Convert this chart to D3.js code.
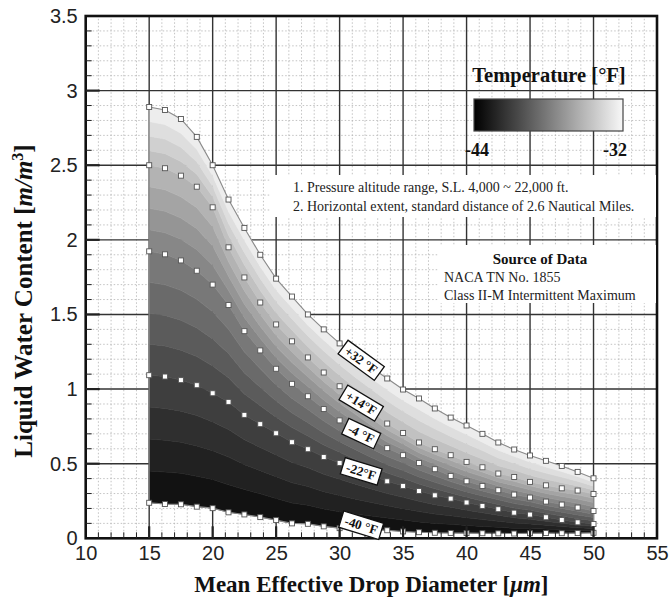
<!DOCTYPE html>
<html>
<head>
<meta charset="utf-8">
<script src="https://cdn.jsdelivr.net/npm/d3@7"></script>
<style>
  body { margin: 0; background: #fff; }
  svg { display: block; }
  text { font-family: "Liberation Serif", "Times New Roman", serif; }
</style>
</head>
<body>
<div id="container"></div>
<script>
const width = 672, height = 603;

// drop diameter (um) where the markers sit
const dropDiameter = [15, 16.25, 17.5, 18.75, 20, 21.25, 22.5, 23.75, 25, 26.25, 27.5, 28.75, 30,
    31.25, 32.5, 33.75, 35, 36.25, 37.5, 38.75, 40, 41.25, 42.5, 43.75, 45, 46.25, 47.5, 48.75, 50];

// liquid water content (g/m3) for each temperature line
const lwcP32 = [2.89, 2.87, 2.81, 2.69, 2.50, 2.27, 2.08, 1.90, 1.74, 1.62, 1.50, 1.40, 1.306,
    1.22, 1.145, 1.071, 0.997, 0.937, 0.870, 0.809, 0.756, 0.700, 0.642, 0.595, 0.555, 0.519, 0.485, 0.445, 0.402];
const lwcP14 = [2.50, 2.48, 2.43, 2.356, 2.218, 1.95, 1.748, 1.58, 1.433, 1.32, 1.212, 1.111, 1.019,
    0.936, 0.853, 0.769, 0.706, 0.642, 0.597, 0.557, 0.512, 0.476, 0.434, 0.411, 0.378, 0.355, 0.335, 0.32, 0.297];
const lwcM4 = [1.923, 1.903, 1.862, 1.793, 1.70, 1.563, 1.388, 1.259, 1.136, 1.035, 0.952, 0.866, 0.79,
    0.725, 0.66, 0.604, 0.557, 0.505, 0.463, 0.418, 0.382, 0.351, 0.322, 0.293, 0.273, 0.246, 0.226, 0.206, 0.183];
const lwcM22 = [1.093, 1.084, 1.06, 1.026, 0.972, 0.914, 0.827, 0.765, 0.704, 0.644, 0.597, 0.545, 0.505,
    0.463, 0.422, 0.382, 0.351, 0.317, 0.288, 0.266, 0.24, 0.217, 0.195, 0.172, 0.159, 0.141, 0.123, 0.107, 0.096];
const lwcM40 = [0.238, 0.23, 0.228, 0.212, 0.202, 0.174, 0.16, 0.142, 0.122, 0.10, 0.097, 0.08, 0.068,
    0.062, 0.058, 0.054, 0.046, 0.041, 0.037, 0.036, 0.035, 0.034, 0.033, 0.032, 0.034, 0.035, 0.034, 0.035, 0.037];

const lineTemps = [-40, -22, -4, 14, 32];
const lineLabels = ['-40 °F', '-22°F', '-4 °F', '+14°F', '+32 °F'];
const legendRange = [-44, -32];

const xTickValues = [10, 15, 20, 25, 30, 35, 40, 45, 50, 55];
const yTickValues = [0, 0.5, 1, 1.5, 2, 2.5, 3, 3.5];

const notes = ['1. Pressure altitude range, S.L. 4,000 ~ 22,000 ft.',
    '2. Horizontal extent, standard distance of 2.6 Nautical Miles.'];
const sourceLines = ['NACA TN No. 1855', 'Class II-M Intermittent Maximum'];

const curves = [lwcM40, lwcM22, lwcM4, lwcP14, lwcP32];

const svg = d3.select('#container').append('svg')
    .attr('width', width)
    .attr('height', height);

const x = d3.scaleLinear([10, 55], [85.7, 657]);
const y = d3.scaleLinear([0, 3.5], [538.3, 16]);

// grid
const grid = svg.append('g');
const minorX = d3.range(11, 55).filter(v => v % 5 != 0);
const minorY = d3.range(1, 35).filter(v => v % 5 != 0).map(v => v / 10);

grid.selectAll('line.vmin').data(minorX).join('line')
    .attr('x1', d => x(d)).attr('x2', d => x(d))
    .attr('y1', y(0)).attr('y2', y(3.5))
    .attr('stroke', '#b4b4b4').attr('stroke-width', 0.8).attr('stroke-dasharray', '1.5,2');
grid.selectAll('line.hmin').data(minorY).join('line')
    .attr('x1', x(10)).attr('x2', x(55))
    .attr('y1', d => y(d)).attr('y2', d => y(d))
    .attr('stroke', '#b4b4b4').attr('stroke-width', 0.8).attr('stroke-dasharray', '1.5,2');
grid.selectAll('line.vmaj').data(xTickValues.slice(1, -1)).join('line')
    .attr('x1', d => x(d)).attr('x2', d => x(d))
    .attr('y1', y(0)).attr('y2', y(3.5))
    .attr('stroke', '#333').attr('stroke-width', 1.4);
grid.selectAll('line.hmaj').data(yTickValues.slice(1, -1)).join('line')
    .attr('x1', x(10)).attr('x2', x(55))
    .attr('y1', d => y(d)).attr('y2', d => y(d))
    .attr('stroke', '#333').attr('stroke-width', 1.4);

// filled bands between the temperature lines
const sub = 4;
const boundaries = [];
for (let i = 0; i < curves.length - 1; i++) {
    for (let s = 0; s < sub; s++) {
        boundaries.push(dropDiameter.map((d, j) => curves[i][j] + (curves[i + 1][j] - curves[i][j]) * s / sub));
    }
}
boundaries.push(curves[curves.length - 1]);
const nBands = boundaries.length - 1;
const bandColor = d3.scaleLinear([0, nBands - 1], ['#121212', '#ededed']);

const area = d3.area()
    .x(d => x(d.x))
    .y0(d => y(d.lo))
    .y1(d => y(d.hi));

const bands = d3.range(nBands).map(k => dropDiameter.map((d, j) => ({x: d, lo: boundaries[k][j], hi: boundaries[k + 1][j]})));
svg.append('g').selectAll('path').data(bands).join('path')
    .attr('d', area)
    .attr('fill', (d, k) => bandColor(k))
    .attr('stroke', (d, k) => bandColor(k))
    .attr('stroke-width', 0.6);

// outline
const outline = dropDiameter.map((d, j) => [d, lwcP32[j]])
    .concat(dropDiameter.map((d, j) => [d, lwcM40[j]]).reverse());
svg.append('path')
    .attr('d', d3.line().x(d => x(d[0])).y(d => y(d[1]))(outline) + 'Z')
    .attr('fill', 'none').attr('stroke', '#8a8a8a').attr('stroke-width', 1.1);

// markers
const markers = svg.append('g');
curves.forEach(c => {
    markers.selectAll(null).data(dropDiameter.map((d, j) => [d, c[j]])).join('rect')
        .attr('x', d => x(d[0]) - 2.5).attr('y', d => y(d[1]) - 2.5)
        .attr('width', 5).attr('height', 5)
        .attr('fill', '#fff').attr('stroke', '#555').attr('stroke-width', 0.9);
});

// frame and inside ticks
svg.append('rect')
    .attr('x', x(10)).attr('y', y(3.5))
    .attr('width', x(55) - x(10)).attr('height', y(0) - y(3.5))
    .attr('fill', 'none').attr('stroke', '#111').attr('stroke-width', 2.6);

const ticks = svg.append('g').attr('stroke', '#222');
ticks.selectAll('line.ymaj').data(yTickValues.slice(1, -1)).join('line')
    .attr('x1', x(10)).attr('x2', x(10) + 14).attr('y1', d => y(d)).attr('y2', d => y(d))
    .attr('stroke-width', 2.2);
ticks.selectAll('line.ymin').data(minorY).join('line')
    .attr('x1', x(10)).attr('x2', x(10) + 6).attr('y1', d => y(d)).attr('y2', d => y(d))
    .attr('stroke-width', 1);
ticks.selectAll('line.xmaj').data(xTickValues.slice(1, -1)).join('line')
    .attr('x1', d => x(d)).attr('x2', d => x(d)).attr('y1', y(0)).attr('y2', y(0) - 12)
    .attr('stroke-width', 2.2);
ticks.selectAll('line.xmin').data(minorX).join('line')
    .attr('x1', d => x(d)).attr('x2', d => x(d)).attr('y1', y(0)).attr('y2', y(0) - 6)
    .attr('stroke-width', 1);

// axes labels
const xAxis = svg.append('g')
    .attr('transform', `translate(0,${y(0)})`)
    .call(d3.axisBottom(x).tickValues(xTickValues).tickSize(0).tickPadding(8).tickFormat(d => d));
const yAxis = svg.append('g')
    .attr('transform', `translate(${x(10)},0)`)
    .call(d3.axisLeft(y).tickValues(yTickValues).tickSize(0).tickPadding(8).tickFormat(d => d));
[xAxis, yAxis].forEach(a => {
    a.select('.domain').remove();
    a.selectAll('text')
        .style('font-family', '"Liberation Sans", Arial, sans-serif')
        .style('font-size', '20px')
        .attr('fill', '#222');
});

// notes
svg.append('rect').attr('x', 270).attr('y', 175).attr('width', 386).attr('height', 42).attr('fill', '#fff');
svg.append('g').selectAll('text').data(notes).join('text')
    .attr('x', 293).attr('y', (d, i) => 192 + i * 18.5)
    .style('font-size', '14px').attr('fill', '#222')
    .text(d => d);

svg.append('rect').attr('x', 438).attr('y', 245).attr('width', 218).attr('height', 58).attr('fill', '#fff');
svg.append('text').attr('x', 540).attr('y', 264).attr('text-anchor', 'middle')
    .style('font-size', '15px').style('font-weight', 'bold').attr('fill', '#111')
    .text('Source of Data');
svg.append('g').selectAll('text').data(sourceLines).join('text')
    .attr('x', 444).attr('y', (d, i) => 282 + i * 17.5)
    .style('font-size', '14px').attr('fill', '#222')
    .text(d => d);

// legend
const grad = svg.append('defs').append('linearGradient').attr('id', 'tgrad');
const legendColor = d3.scaleLinear(legendRange, ['#000', '#f8f8f8']);
d3.range(0, 1.01, 0.1).forEach(t => {
    grad.append('stop').attr('offset', t).attr('stop-color', legendColor(legendRange[0] + t * (legendRange[1] - legendRange[0])));
});
svg.append('text').attr('x', 549).attr('y', 82).attr('text-anchor', 'middle')
    .style('font-size', '20.5px').style('font-weight', 'bold').attr('fill', '#111')
    .text('Temperature [°F]');
svg.append('rect').attr('x', 474).attr('y', 99).attr('width', 149).attr('height', 32)
    .attr('fill', 'url(#tgrad)').attr('stroke', '#444').attr('stroke-width', 1.2);
svg.append('g').selectAll('text').data(legendRange).join('text')
    .attr('x', (d, i) => i == 0 ? 477 : 615).attr('y', 156).attr('text-anchor', 'middle')
    .style('font-size', '18px').style('font-weight', 'bold').attr('fill', '#111')
    .text(d => d);

// line labels
const labelAt = 31.7;
const labelAngles = [17, 17, 25, 31, 36];
function valueAt(c, xv) {
    const j = d3.bisectRight(dropDiameter, xv) - 1;
    const t = (xv - dropDiameter[j]) / (dropDiameter[j + 1] - dropDiameter[j]);
    return c[j] + (c[j + 1] - c[j]) * t;
}
const lbl = svg.append('g').selectAll('g').data(lineLabels).join('g')
    .attr('transform', (d, i) => `translate(${x(labelAt)},${y(valueAt(curves[i], labelAt)) + (i == 0 ? -4 : 0)}) rotate(${labelAngles[i]})`);
lbl.append('rect');
lbl.append('text')
    .attr('text-anchor', 'middle').attr('dy', '0.35em')
    .style('font-size', '13px').style('font-weight', 'bold').attr('fill', '#111')
    .text(d => d);
lbl.each(function() {
    const g = d3.select(this);
    const w = g.select('text').node().getComputedTextLength() + 8;
    g.select('rect').attr('x', -w / 2).attr('y', -8.5).attr('width', w).attr('height', 17)
        .attr('fill', '#fff').attr('stroke', '#111').attr('stroke-width', 1.3);
});

// axis titles
const xt = svg.append('text').attr('x', (x(10) + x(55)) / 2).attr('y', 592).attr('text-anchor', 'middle')
    .style('font-size', '23px').style('font-weight', 'bold').attr('fill', '#111');
xt.append('tspan').text('Mean Effective Drop Diameter [');
xt.append('tspan').style('font-style', 'italic').text('μm');
xt.append('tspan').text(']');

const yt = svg.append('text').attr('transform', 'translate(32,301) rotate(-90)').attr('text-anchor', 'middle')
    .style('font-size', '25px').style('font-weight', 'bold').attr('fill', '#111');
yt.append('tspan').text('Liquid Water Content [');
yt.append('tspan').style('font-style', 'italic').text('m/m');
yt.append('tspan').attr('dy', -9).style('font-size', '16px').text('3');
yt.append('tspan').attr('dy', 9).text(']');
</script>
</body>
</html>
